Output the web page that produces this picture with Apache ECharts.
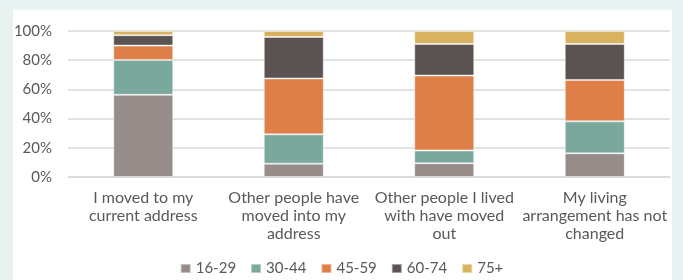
<!DOCTYPE html>
<html>
<head>
<meta charset="utf-8">
<script src="https://cdn.jsdelivr.net/npm/echarts@6/dist/echarts.min.js"></script>
<style>
  html, body { margin: 0; padding: 0; background: #e8f2f0; }
  #wrap { position: relative; width: 683px; height: 280px; overflow: hidden; }
  #panel { position: absolute; left: 13px; top: 10px; width: 659px; height: 280px; background: #fff; }
  #chart { position: absolute; left: 0; top: 0; width: 683px; height: 280px; }
</style>
</head>
<body>
<div id="wrap">
  <div id="panel"></div>
  <div id="chart"></div>
</div>
<script>
// 数据
var categories = [
  'I moved to my\ncurrent address',
  'Other people have\nmoved into my\naddress',
  'Other people I lived\nwith have moved\nout',
  'My living\narrangement has not\nchanged'
];
var ageGroups = ['16-29', '30-44', '45-59', '60-74', '75+'];
var age16to29 = [56.3, 9.1, 9.4, 16.2];
var age30to44 = [23.9, 20.1, 8.8, 21.9];
var age45to59 = [9.8, 38.3, 51.3, 28.4];
var age60to74 = [7.1, 28.4, 21.6, 24.6];
var age75plus = [2.9, 4.1, 8.9, 8.9];
var yTicks = [0, 20, 40, 60, 80, 100];

var colors = ['#968c8a', '#7aa89c', '#dd7f47', '#5b5252', '#d9b25f'];
var seriesData = [age16to29, age30to44, age45to59, age60to74, age75plus];
var font = 'Lato, "Open Sans", sans-serif';

var chart = echarts.init(document.getElementById('chart'));

var option = {
  color: colors,
  animation: false,
  textStyle: { fontFamily: font },
  grid: { left: 68, right: 13, top: 31, bottom: 103 },
  legend: {
    data: ageGroups,
    top: 256,
    left: 'center',
    itemWidth: 10,
    itemHeight: 9,
    itemGap: 14,
    icon: 'rect',
    textStyle: { color: '#595959', fontSize: 15, fontFamily: font }
  },
  xAxis: {
    type: 'category',
    data: categories,
    axisLine: { lineStyle: { color: '#d9d9d9', width: 1.5 } },
    axisTick: { show: false },
    axisLabel: {
      color: '#595959',
      fontSize: 16,
      lineHeight: 18,
      margin: 12,
      interval: 0,
      fontFamily: font
    }
  },
  yAxis: {
    type: 'value',
    min: yTicks[0],
    max: yTicks[yTicks.length - 1],
    interval: 20,
    axisLine: { show: false },
    axisTick: { show: false },
    splitLine: { lineStyle: { color: '#d9d9d9', width: 1.5 } },
    axisLabel: {
      color: '#595959',
      fontSize: 15,
      margin: 16,
      formatter: '{value}%',
      fontFamily: font
    }
  },
  series: ageGroups.map(function (name, i) {
    return {
      name: name,
      type: 'bar',
      stack: 'total',
      barWidth: 60,
      data: seriesData[i],
      itemStyle: { borderColor: 'rgba(255,255,255,0.45)', borderWidth: 1 }
    };
  })
};

chart.setOption(option);
</script>
</body>
</html>
